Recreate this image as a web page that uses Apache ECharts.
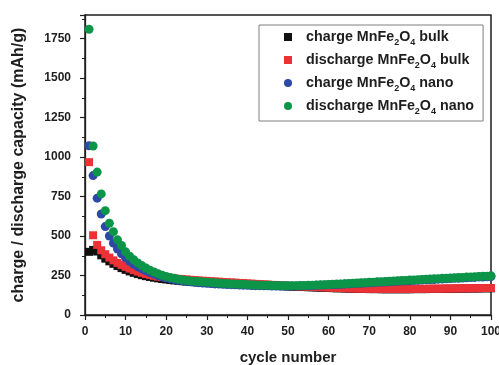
<!DOCTYPE html>
<html>
<head>
<meta charset="utf-8">
<script src="https://cdn.jsdelivr.net/npm/echarts@6/dist/echarts.min.js"></script>
<style>
  html, body { margin: 0; padding: 0; background: #fff; }
  #main { width: 499px; height: 365px; }
</style>
</head>
<body>
<div id="main"></div>
<script>
// cycle numbers 1..100
var cycles = [
  1, 2, 3, 4, 5, 6, 7, 8, 9, 10, 11, 12, 13, 14, 15, 16, 17, 18, 19, 20,
  21, 22, 23, 24, 25, 26, 27, 28, 29, 30, 31, 32, 33, 34, 35, 36, 37, 38, 39, 40,
  41, 42, 43, 44, 45, 46, 47, 48, 49, 50, 51, 52, 53, 54, 55, 56, 57, 58, 59, 60,
  61, 62, 63, 64, 65, 66, 67, 68, 69, 70, 71, 72, 73, 74, 75, 76, 77, 78, 79, 80,
  81, 82, 83, 84, 85, 86, 87, 88, 89, 90, 91, 92, 93, 94, 95, 96, 97, 98, 99, 100
];

// charge MnFe2O4 bulk (mAh/g)
var chargeBulk = [
  400, 412, 402, 378, 357, 340, 324, 310, 297, 286, 276, 267, 259, 252, 246, 241, 236, 232, 228, 225,
  222, 219, 217, 214, 212, 210, 208, 207, 205, 204, 202, 201, 200, 198, 197, 196, 195, 193, 192, 191,
  190, 189, 188, 187, 186, 185, 184, 183, 182, 181, 180, 179, 178, 177, 176, 175, 174, 173, 172, 171,
  170, 169, 169, 168, 167, 166, 166, 165, 165, 164, 164, 164, 163, 163, 163, 163, 163, 163, 163, 163,
  164, 164, 164, 164, 165, 165, 165, 165, 166, 166, 166, 167, 167, 167, 168, 168, 168, 169, 169, 169
];

// discharge MnFe2O4 bulk
var dischargeBulk = [
  968, 505, 444, 410, 385, 364, 346, 330, 317, 305, 294, 284, 275, 267, 260, 254, 248, 243, 240, 238,
  235, 232, 229, 227, 225, 223, 221, 219, 217, 216, 214, 212, 211, 209, 208, 206, 205, 203, 202, 200,
  199, 197, 196, 194, 193, 191, 190, 188, 187, 185, 184, 182, 181, 180, 179, 178, 177, 176, 175, 174,
  173, 172, 171, 170, 169, 168, 168, 167, 167, 166, 166, 166, 165, 165, 165, 165, 165, 165, 165, 165,
  166, 166, 166, 166, 167, 167, 167, 167, 168, 168, 168, 169, 169, 169, 170, 170, 170, 171, 171, 171
];

// charge MnFe2O4 nano
var chargeNano = [
  1072, 883, 740, 640, 560, 500, 455, 418, 388, 362, 340, 321, 305, 292, 280, 269, 259, 250, 242, 235,
  229, 224, 220, 216, 213, 210, 207, 205, 203, 201, 199, 197, 196, 194, 193, 192, 191, 190, 189, 188,
  187, 186, 186, 185, 185, 184, 184, 184, 184, 184, 184, 184, 185, 185, 186, 187, 188, 189, 190, 191,
  192, 193, 195, 196, 197, 199, 200, 201, 203, 204, 205, 207, 208, 209, 211, 212, 213, 215, 216, 217,
  219, 220, 221, 223, 224, 225, 227, 228, 229, 231, 232, 233, 234, 236, 237, 238, 240, 241, 242, 244
];

// discharge MnFe2O4 nano
var dischargeNano = [
  1810, 1070, 905, 767, 661, 581, 528, 476, 440, 400, 372, 350, 330, 313, 298, 284, 272, 262, 252, 244,
  238, 232, 227, 223, 219, 216, 214, 212, 210, 208, 206, 204, 202, 200, 199, 197, 196, 195, 194, 192,
  191, 190, 189, 188, 188, 187, 187, 186, 186, 186, 186, 186, 187, 187, 188, 189, 190, 191, 192, 193,
  194, 196, 197, 198, 200, 201, 202, 204, 205, 207, 208, 210, 211, 212, 214, 215, 217, 218, 219, 221,
  222, 224, 225, 226, 228, 229, 230, 232, 233, 234, 236, 237, 238, 240, 241, 242, 244, 245, 246, 248
];

var seriesNames = [
  'charge MnFe2O4 bulk',
  'discharge MnFe2O4 bulk',
  'charge MnFe2O4 nano',
  'discharge MnFe2O4 nano'
];

var yTicks = [0, 250, 500, 750, 1000, 1250, 1500, 1750];

function pairs(vals) {
  return vals.map(function (v, i) { return [cycles[i], v]; });
}

var font = 'Liberation Sans, Arial, Helvetica, sans-serif';
var ink = '#1e1e1e';

var myChart = echarts.init(document.getElementById('main'));

var option = {
  animation: false,
  backgroundColor: '#fff',
  grid: {
    left: 85, right: 8, top: 15, bottom: 50,
    outerBoundsMode: 'none',
    containLabel: false,
    show: true, borderColor: ink, borderWidth: 1.5
  },
  legend: {
    orient: 'vertical',
    left: 259, top: 25,
    padding: [5, 9, 5, 25],
    itemGap: 6,
    itemWidth: 8, itemHeight: 8,
    borderColor: '#808080', borderWidth: 1,
    data: seriesNames,
    formatter: function (name) {
      return '{t|' + name.replace('MnFe2O4', 'MnFe}{s|2}{t|O}{s|4}{t|') + '}';
    },
    textStyle: {
      padding: [0, 0, 0, 9],
      rich: {
        t: { fontFamily: font, fontWeight: 'bold', fontSize: 14.3, color: ink, lineHeight: 20 },
        s: { fontFamily: font, fontWeight: 'bold', fontSize: 9, color: ink, lineHeight: 8, verticalAlign: 'bottom' }
      }
    }
  },
  xAxis: {
    type: 'value',
    min: 0, max: 100, interval: 10,
    name: 'cycle number',
    nameLocation: 'middle',
    nameGap: 35,
    nameTextStyle: { fontFamily: font, fontWeight: 'bold', fontSize: 15, color: ink },
    axisLine: { onZero: false, lineStyle: { color: ink, width: 1.3 } },
    axisTick: { length: 5, lineStyle: { color: ink, width: 1.2 } },
    minorTick: { show: true, splitNumber: 2, length: 3, lineStyle: { color: ink, width: 1 } },
    splitLine: { show: false },
    axisLabel: { fontFamily: font, fontWeight: 'bold', fontSize: 12, color: ink, margin: 11 }
  },
  yAxis: {
    type: 'value',
    min: 0, max: 1900, interval: 250,
    name: 'charge / discharge capacity (mAh/g)',
    nameLocation: 'middle',
    nameGap: 58,
    nameTextStyle: { fontFamily: font, fontWeight: 'bold', fontSize: 16, color: ink },
    axisLine: { onZero: false, lineStyle: { color: ink, width: 1.3 } },
    axisTick: { length: 5, lineStyle: { color: ink, width: 1.2 } },
    minorTick: { show: true, splitNumber: 2, length: 3, lineStyle: { color: ink, width: 1 } },
    splitLine: { show: false },
    axisLabel: {
      fontFamily: font, fontWeight: 'bold', fontSize: 12, color: ink, margin: 14,
      formatter: function (v) { return yTicks.indexOf(v) >= 0 ? String(v) : ''; }
    }
  },
  series: [
    { name: seriesNames[0], type: 'scatter', symbol: 'rect', symbolSize: 8,
      itemStyle: { color: '#111111', opacity: 1 }, data: pairs(chargeBulk) },
    { name: seriesNames[1], type: 'scatter', symbol: 'rect', symbolSize: 8,
      itemStyle: { color: '#ec3237', opacity: 1 }, data: pairs(dischargeBulk) },
    { name: seriesNames[2], type: 'scatter', symbol: 'circle', symbolSize: 9,
      itemStyle: { color: '#2c4aa5', opacity: 1 }, data: pairs(chargeNano) },
    { name: seriesNames[3], type: 'scatter', symbol: 'circle', symbolSize: 9,
      itemStyle: { color: '#0c9548', opacity: 1 }, data: pairs(dischargeNano) }
  ]
};

myChart.setOption(option);
</script>
</body>
</html>
